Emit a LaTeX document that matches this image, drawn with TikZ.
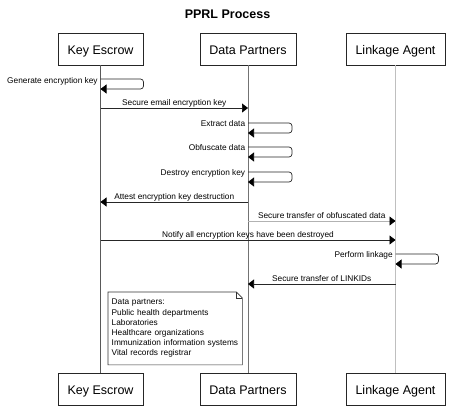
\documentclass[tikz,border=0pt]{standalone}
\usepackage{fontspec}
\setmainfont{Liberation Sans}
\usetikzlibrary{arrows.meta}

\begin{document}
\begin{tikzpicture}[x=1pt, y=-1pt]
        \tikzstyle{actor} = [draw=black!85, line width=0.7pt, inner xsep=9.5pt, minimum height=32pt, text height=11pt, text depth=0pt, font=\fontsize{12.5}{15}\selectfont];
        \tikzstyle{life} = [line width=0.7pt];
        \tikzstyle{msg} = [black!85, line width=0.7pt, -{Triangle[length=6pt, width=9pt, color=black]}];
        \tikzstyle{self} = [msg, rounded corners=3pt];
        \tikzstyle{lbl} = [font=\fontsize{8.3}{10}\selectfont, inner sep=0pt, text=black];
        \tikzstyle{note} = [align=left, text width=127pt, inner xsep=3.5pt, inner ysep=7pt, font=\fontsize{8.3}{10.2}\selectfont];

        \useasboundingbox (0,0) rectangle (455,410);

        \node [font=\bfseries\fontsize{12.5}{15}\selectfont] (title) at (227.5,14.5) {PPRL Process};

        % participants, top and bottom
        \node [actor] (ke) at (100.5,49) {Key Escrow};
        \node [actor] (dp) at (248,49) {Data Partners};
        \node [actor] (la) at (395.5,49) {Linkage Agent};
        \node [actor] (keb) at (100.5,389) {Key Escrow};
        \node [actor] (dpb) at (248,389) {Data Partners};
        \node [actor] (lab) at (395.5,389) {Linkage Agent};

        \draw [life, black!65] (ke) -- (keb);
        \draw [life, black!55] (dp) -- (dpb);
        \draw [life, black!25] (la) -- (lab);

        % messages
        \draw [self] (ke |- 0,79) node [lbl, anchor=base east, xshift=-2.5pt, yshift=-4pt] (genkey) {Generate encryption key} -- ++(43,0) |- (ke |- 0,89);
        \draw [msg] (ke |- 0,108) -- node [lbl, anchor=base, yshift=2.5pt] (sendkey) {Secure email encryption key} (dp |- 0,108);
        \draw [self] (dp |- 0,123) node [lbl, anchor=base east, xshift=-2.5pt, yshift=-3.5pt] (extract) {Extract data} -- ++(44,0) |- (dp |- 0,133);
        \draw [self] (dp |- 0,147) node [lbl, anchor=base east, xshift=-2.5pt, yshift=-3.5pt] (obfus) {Obfuscate data} -- ++(44,0) |- (dp |- 0,157);
        \draw [self] (dp |- 0,172) node [lbl, anchor=base east, xshift=-2.5pt, yshift=-3.5pt] (destroy) {Destroy encryption key} -- ++(44,0) |- (dp |- 0,182);
        \draw [msg] (dp |- 0,202) -- node [lbl, anchor=base, yshift=2.8pt] (attest) {Attest encryption key destruction} (ke |- 0,202);
        \draw [msg, black!30] (dp |- 0,221) -- node [lbl, anchor=base, yshift=2.8pt] (transfer) {Secure transfer of obfuscated data} (la |- 0,221);
        \draw [msg] (ke |- 0,240) -- node [lbl, anchor=base, yshift=2.8pt] (notify) {Notify all encryption keys have been destroyed} (la |- 0,240);
        \draw [self] (la |- 0,254) node [lbl, anchor=base east, xshift=-2.5pt, yshift=-3.5pt] (linkage) {Perform linkage} -- ++(43,0) |- (la |- 0,264);
        \draw [msg] (la |- 0,284) -- node [lbl, anchor=base, yshift=2.8pt] (linkids) {Secure transfer of LINKIDs} (dp |- 0,284);

        % note with folded corner
        \node [note, anchor=north west] (partners) at (108,292) {Data partners:\\ Public health departments\\ Laboratories\\ Healthcare organizations\\ Immunization information systems\\ Vital records registrar};
        \draw [black!80, line width=0.6pt] (partners.north west) -- ([xshift=-6pt]partners.north east) -- ([yshift=-6pt]partners.north east) -- (partners.south east) -- (partners.south west) -- cycle;
        \draw [black!80, line width=0.6pt] ([xshift=-6pt]partners.north east) |- ([yshift=-6pt]partners.north east);
\end{tikzpicture}
\end{document}
